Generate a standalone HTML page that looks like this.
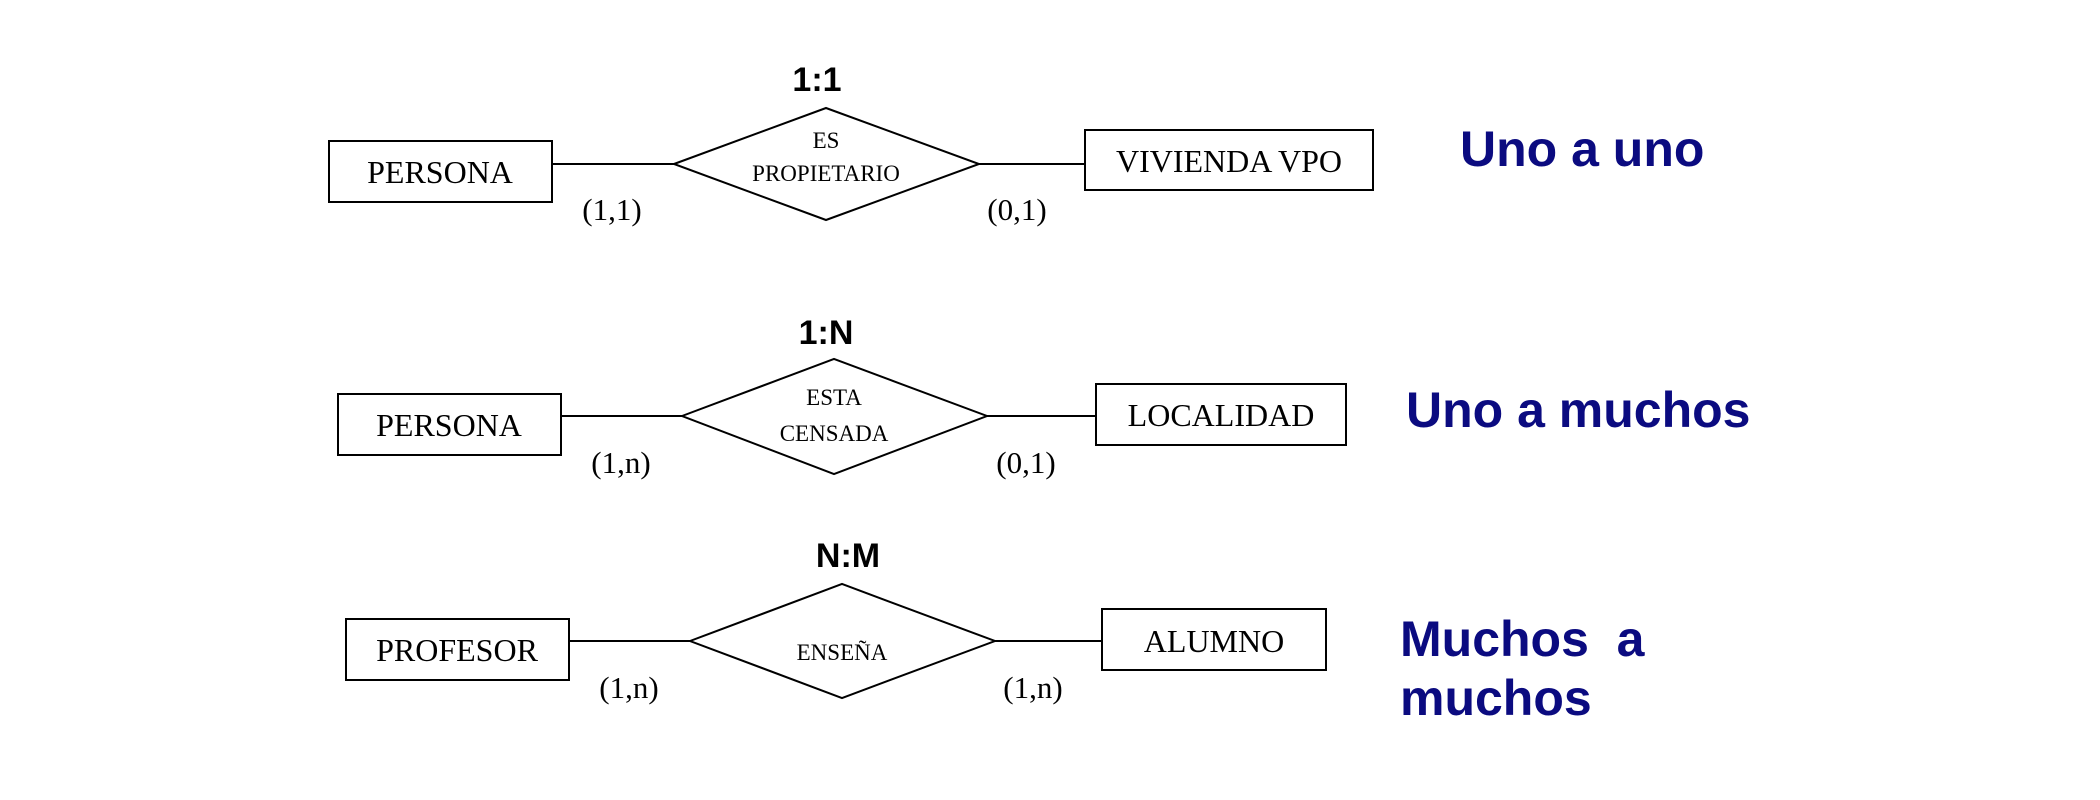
<!DOCTYPE html>
<html><head><meta charset="utf-8"><style>html,body{margin:0;padding:0;background:#fff}svg{display:block}</style></head>
<body>
<svg width="2100" height="800" viewBox="0 0 2100 800" xmlns="http://www.w3.org/2000/svg">
<g fill="none" stroke="#000" stroke-width="2">
<rect x="329" y="141" width="223" height="61"/>
<polygon points="674,164 826,108 979,164 826,220"/>
<rect x="1085" y="130" width="288" height="60"/>
<line x1="552" y1="164" x2="674" y2="164"/>
<line x1="979" y1="164" x2="1085" y2="164"/>

<rect x="338" y="394" width="223" height="61"/>
<polygon points="682,416 834,359 987,416 834,474"/>
<rect x="1096" y="384" width="250" height="61"/>
<line x1="561" y1="416" x2="682" y2="416"/>
<line x1="987" y1="416" x2="1096" y2="416"/>

<rect x="346" y="619" width="223" height="61"/>
<polygon points="690,641 842,584 995,641 842,698"/>
<rect x="1102" y="609" width="224" height="61"/>
<line x1="569" y1="641" x2="690" y2="641"/>
<line x1="995" y1="641" x2="1102" y2="641"/>
</g>
<g font-family="Liberation Serif, serif" fill="#000" text-anchor="middle">
<text x="440" y="183" font-size="32">PERSONA</text>
<text x="826" y="148" font-size="23">ES</text>
<text x="826" y="181" font-size="23">PROPIETARIO</text>
<text x="1229" y="172" font-size="32">VIVIENDA VPO</text>
<text x="612" y="220" font-size="31">(1,1)</text>
<text x="1017" y="220" font-size="31">(0,1)</text>

<text x="449" y="436" font-size="32">PERSONA</text>
<text x="834" y="405" font-size="23">ESTA</text>
<text x="834" y="441" font-size="23">CENSADA</text>
<text x="1221" y="426" font-size="32">LOCALIDAD</text>
<text x="621" y="473" font-size="31">(1,n)</text>
<text x="1026" y="473" font-size="31">(0,1)</text>

<text x="457" y="661" font-size="32">PROFESOR</text>
<text x="842" y="660" font-size="23">ENSEÑA</text>
<text x="1214" y="652" font-size="32">ALUMNO</text>
<text x="629" y="698" font-size="31">(1,n)</text>
<text x="1033" y="698" font-size="31">(1,n)</text>
</g>
<g font-family="Liberation Sans, sans-serif" font-weight="bold" text-anchor="middle" fill="#000" font-size="34">
<text x="817" y="91">1:1</text>
<text x="826" y="344">1:N</text>
<text x="848" y="567">N:M</text>
</g>
<g font-family="Liberation Sans, sans-serif" font-weight="bold" fill="#0b0b80" font-size="50">
<text x="1460" y="166">Uno a uno</text>
<text x="1406" y="427">Uno a muchos</text>
<text x="1400" y="656" xml:space="preserve">Muchos  a</text>
<text x="1400" y="715">muchos</text>
</g>
</svg>
</body></html>
